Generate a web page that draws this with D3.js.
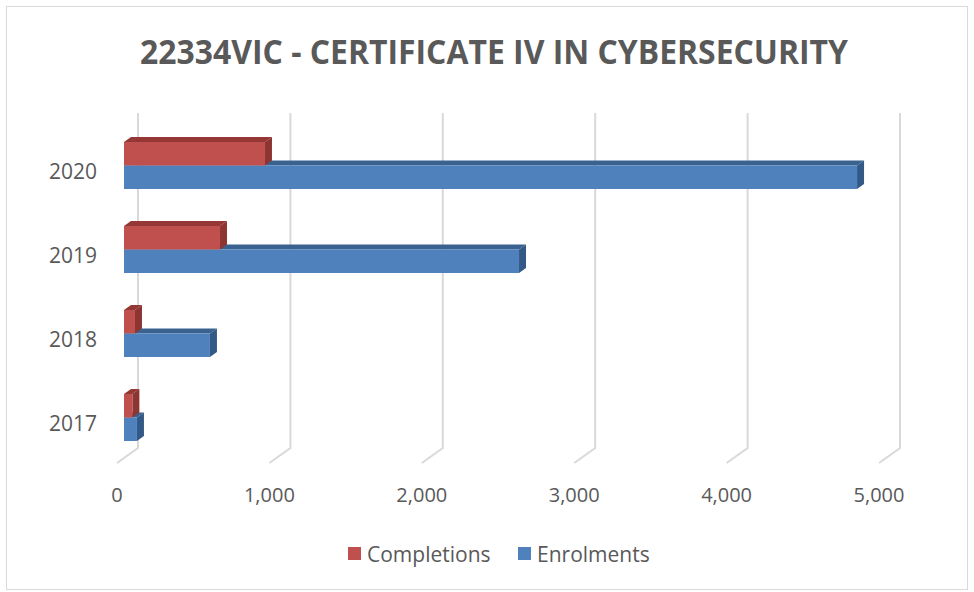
<!DOCTYPE html>
<html>
<head>
<meta charset="utf-8">
<script src="https://cdn.jsdelivr.net/npm/d3@7"></script>
<style>
  html, body { margin: 0; padding: 0; background: #fff; }
  text { font-family: "Open Sans", "Noto Sans", sans-serif; fill: #595959; }
</style>
</head>
<body>
<div id="chart"></div>
<script>
(function () {
  'use strict';

  var years = ['2020', '2019', '2018', '2017'];
  var seriesNames = ['Completions', 'Enrolments'];
  var completions = [925, 630, 72, 55];
  var enrolments = [4810, 2592, 564, 85];
  var xTicks = [0, 1000, 2000, 3000, 4000, 5000];

  var colors = {
    Completions: {front: '#c0504d', top: '#953735', side: '#8c3533'},
    Enrolments: {front: '#4f81bd', top: '#3a6290', side: '#335a86'}
  };

  var width = 974, height = 592;
  // bar depth (screen offset of the back face), and the floor front/back planes
  var bdx = 7, bdy = -5;
  var frontDx = -7, frontDy = 5, backDx = 14, backDy = -10;

  var svg = d3.select('#chart').append('svg')
      .attr('width', width).attr('height', height);

  svg.append('rect')
      .attr('x', 6.5).attr('y', 6.5).attr('width', 961).attr('height', 583)
      .attr('fill', '#fff').attr('stroke', '#d9d9d9');

  svg.append('text')
      .attr('x', 140).attr('y', 64)
      .attr('textLength', 708).attr('lengthAdjust', 'spacingAndGlyphs')
      .style('font-size', '34px').style('font-weight', 'bold')
      .text('22334VIC - CERTIFICATE IV IN CYBERSECURITY');

  var x = d3.scaleLinear().domain([0, 5000]).range([124, 886]);
  var y = d3.scaleBand().domain(years).range([123.5, 459.5]).padding(0);
  var groupH = 47;
  var ySub = d3.scaleBand().domain(seriesNames).range([0, groupH]);

  var gridTop = 113, gridBottom = 448;

  // gridlines: vertical on the back wall, then a short diagonal on the floor
  svg.append('g').selectAll('path')
      .data(xTicks)
      .enter()
      .append('path')
      .attr('fill', 'none')
      .attr('stroke', '#d9d9d9')
      .attr('stroke-width', 2)
      .attr('d', function (d) {
        var bx = x(d) + backDx, fx = x(d) + frontDx;
        return 'M' + bx + ',' + gridTop + 'L' + bx + ',' + gridBottom +
            'L' + fx + ',' + (gridBottom - backDy + frontDy) ;
      });

  // tick labels on the front edge of the floor
  svg.append('g').selectAll('text')
      .data(xTicks)
      .enter()
      .append('text')
      .attr('x', function (d) { return x(d) + frontDx; })
      .attr('y', 494)
      .attr('text-anchor', 'middle')
      .attr('dominant-baseline', 'central')
      .style('font-size', '20px')
      .text(d3.format(','));

  // category labels
  svg.append('g').selectAll('text')
      .data(years)
      .enter()
      .append('text')
      .attr('x', 97)
      .attr('y', function (d) { return y(d) + y.bandwidth() / 2 + frontDy; })
      .attr('text-anchor', 'end')
      .attr('dominant-baseline', 'central')
      .style('font-size', '21px')
      .text(function (d) { return d; });

  var rows = [];
  years.forEach(function (yr, i) {
    // lower bar first so the upper one covers its top face
    rows.push({year: yr, name: 'Enrolments', value: enrolments[i]});
    rows.push({year: yr, name: 'Completions', value: completions[i]});
  });

  var bars = svg.append('g').selectAll('g.bar')
      .data(rows)
      .enter()
      .append('g')
      .attr('class', 'bar');

  function geom(d) {
    var top = y(d.year) + (y.bandwidth() - groupH) / 2 + ySub(d.name);
    return {x0: x(0), x1: x(d.value), y0: top, y1: top + ySub.bandwidth()};
  }

  bars.append('path')
      .attr('fill', function (d) { return colors[d.name].top; })
      .attr('d', function (d) {
        var g = geom(d);
        return 'M' + g.x0 + ',' + g.y0 + 'L' + (g.x0 + bdx) + ',' + (g.y0 + bdy) +
            'L' + (g.x1 + bdx) + ',' + (g.y0 + bdy) + 'L' + g.x1 + ',' + g.y0 + 'Z';
      });

  bars.append('path')
      .attr('fill', function (d) { return colors[d.name].side; })
      .attr('d', function (d) {
        var g = geom(d);
        return 'M' + g.x1 + ',' + g.y0 + 'L' + (g.x1 + bdx) + ',' + (g.y0 + bdy) +
            'L' + (g.x1 + bdx) + ',' + (g.y1 + bdy) + 'L' + g.x1 + ',' + g.y1 + 'Z';
      });

  bars.append('rect')
      .attr('fill', function (d) { return colors[d.name].front; })
      .attr('x', function (d) { return geom(d).x0; })
      .attr('y', function (d) { return geom(d).y0; })
      .attr('width', function (d) { var g = geom(d); return g.x1 - g.x0; })
      .attr('height', ySub.bandwidth());

  // legend
  var legend = svg.append('g').selectAll('g')
      .data(seriesNames)
      .enter()
      .append('g')
      .attr('transform', function (d, i) { return 'translate(' + [348 + i * 170, 547] + ')'; });

  legend.append('rect')
      .attr('width', 13).attr('height', 13)
      .attr('fill', function (d) { return colors[d].front; });

  legend.append('text')
      .attr('x', 19).attr('y', 7)
      .attr('dominant-baseline', 'central')
      .style('font-size', '21px')
      .text(function (d) { return d; });
}());
</script>
</body>
</html>
